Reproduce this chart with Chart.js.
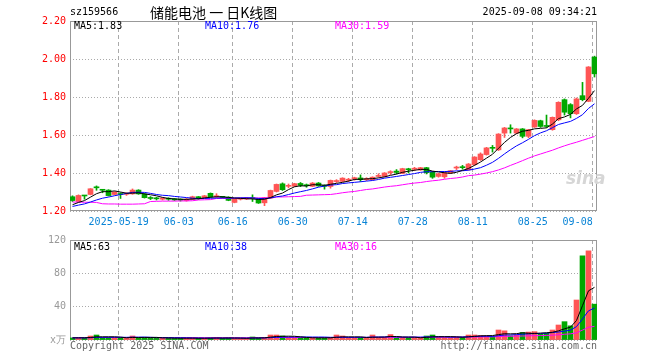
<!DOCTYPE html>
<html>
<head>
<meta charset="utf-8">
<script src="https://cdn.jsdelivr.net/npm/chart.js@4.4.0/dist/chart.umd.min.js"></script>
<style>
  body { margin: 0; background: #fff; }
  #wrap { position: relative; width: 660px; height: 360px; overflow: hidden;
          font-family: "DejaVu Sans Mono", monospace; font-size: 10px; color: #000; }
  canvas { position: absolute; left: 0; }
  .t { position: absolute; line-height: 12px; white-space: pre; }
</style>
</head>
<body>
<div id="wrap">
  <canvas id="kline" width="660" height="231" style="top:0"></canvas>
  <canvas id="vol" width="660" height="130" style="top:230px"></canvas>

  <div class="t" style="left:70px;top:6px">sz159566</div>
  <div class="t" style="left:150px;top:3px;font-family:'Noto Sans CJK SC';font-size:14px;line-height:18px">储能电池 一 日K线图</div>
  <div class="t" style="right:63px;top:6px">2025-09-08 09:34:21</div>

  <div class="t" id="ma5" style="left:74px;top:20px"></div>
  <div class="t" id="ma10" style="left:205px;top:20px;color:#0000ff"></div>
  <div class="t" id="ma30" style="left:335px;top:20px;color:#ff00ff"></div>

  <div class="t" id="vma5" style="left:74px;top:241px"></div>
  <div class="t" id="vma10" style="left:205px;top:241px;color:#0000ff"></div>
  <div class="t" id="vma30" style="left:335px;top:241px;color:#ff00ff"></div>

  <div class="t" style="left:566px;top:168px;font-family:'DejaVu Sans';font-style:italic;font-weight:bold;font-size:17px;line-height:20px;color:#d6d6d6">sina</div>

  <div class="t" style="left:70px;top:340px;color:#666">Copyright 2025 SINA.COM</div>
  <div class="t" style="right:63px;top:340px;color:#666">http://finance.sina.com.cn</div>
</div>

<script>
// trading days shown (2025)
const dates = [
  '05-07','05-08','05-09','05-12','05-13','05-14','05-15','05-16','05-19','05-20',
  '05-21','05-22','05-23','05-26','05-27','05-28','05-29','05-30',
  '06-03','06-04','06-05','06-06','06-09','06-10','06-11','06-12','06-13','06-16',
  '06-17','06-18','06-19','06-20','06-23','06-24','06-25','06-26','06-27','06-30',
  '07-01','07-02','07-03','07-04','07-07','07-08','07-09','07-10','07-11','07-14',
  '07-15','07-16','07-17','07-18','07-21','07-22','07-23','07-24','07-25','07-28',
  '07-29','07-30','07-31',
  '08-01','08-04','08-05','08-06','08-07','08-08','08-11','08-12','08-13','08-14',
  '08-15','08-18','08-19','08-20','08-21','08-22','08-25','08-26','08-27','08-28','08-29',
  '09-01','09-02','09-03','09-04','09-05','09-08'
];
const tickDates = ['05-19','06-03','06-16','06-30','07-14','07-28','08-11','08-25','09-08'];
const tickText = ['2025-05-19','06-03','06-16','06-30','07-14','07-28','08-11','08-25','09-08'];
const priceTicks = [1.20, 1.40, 1.60, 1.80, 2.00, 2.20];
const volTicks = [0, 40, 80, 120];

const open = [
  1.275,1.250,1.281,1.287,1.324,1.311,1.310,1.287,1.289,1.288,
  1.290,1.310,1.290,1.270,1.267,1.262,1.266,1.264,1.260,1.255,
  1.262,1.272,1.270,1.293,1.275,1.275,1.273,1.245,1.262,1.263,
  1.268,1.263,1.243,1.268,1.303,1.343,1.330,1.330,1.345,1.337,
  1.330,1.347,1.335,1.329,1.355,1.356,1.362,1.370,1.374,1.365,
  1.365,1.382,1.382,1.402,1.410,1.398,1.420,1.420,1.416,1.428,
  1.405,1.382,1.380,1.400,1.426,1.432,1.417,1.444,1.470,1.497,
  1.535,1.522,1.610,1.635,1.610,1.632,1.593,1.642,1.675,1.650,
  1.628,1.680,1.786,1.760,1.712,1.807,1.777,2.010
];
const high = [
  1.280,1.285,1.282,1.318,1.332,1.312,1.312,1.302,1.296,1.296,
  1.316,1.312,1.292,1.276,1.272,1.270,1.270,1.266,1.264,1.266,
  1.278,1.276,1.282,1.295,1.291,1.277,1.275,1.265,1.268,1.272,
  1.285,1.265,1.272,1.310,1.342,1.348,1.342,1.346,1.350,1.342,
  1.350,1.350,1.338,1.363,1.365,1.375,1.372,1.378,1.390,1.375,
  1.380,1.396,1.402,1.412,1.418,1.425,1.425,1.430,1.430,1.430,
  1.408,1.398,1.405,1.414,1.436,1.440,1.450,1.486,1.506,1.535,
  1.545,1.607,1.640,1.654,1.634,1.634,1.630,1.680,1.678,1.705,
  1.695,1.775,1.790,1.765,1.795,1.877,1.960,2.015
];
const low = [
  1.250,1.248,1.262,1.285,1.309,1.296,1.279,1.285,1.266,1.282,
  1.288,1.288,1.268,1.260,1.258,1.258,1.256,1.255,1.252,1.252,
  1.260,1.262,1.268,1.272,1.272,1.268,1.254,1.243,1.258,1.260,
  1.250,1.240,1.228,1.266,1.300,1.308,1.322,1.328,1.328,1.325,
  1.328,1.330,1.315,1.320,1.350,1.354,1.355,1.362,1.356,1.360,
  1.363,1.378,1.380,1.392,1.395,1.396,1.400,1.412,1.414,1.395,
  1.372,1.378,1.372,1.398,1.418,1.420,1.415,1.440,1.466,1.494,
  1.510,1.518,1.587,1.610,1.606,1.585,1.586,1.640,1.640,1.640,
  1.625,1.675,1.705,1.690,1.708,1.780,1.775,1.905
];
const close = [
  1.255,1.282,1.279,1.317,1.322,1.309,1.281,1.300,1.287,1.292,
  1.310,1.290,1.270,1.266,1.264,1.268,1.262,1.258,1.257,1.262,
  1.275,1.270,1.280,1.274,1.276,1.272,1.256,1.263,1.265,1.268,
  1.265,1.242,1.270,1.308,1.340,1.312,1.333,1.344,1.335,1.333,
  1.347,1.332,1.330,1.361,1.358,1.373,1.366,1.373,1.365,1.369,
  1.378,1.386,1.400,1.405,1.403,1.423,1.417,1.424,1.428,1.402,
  1.378,1.396,1.402,1.412,1.430,1.428,1.447,1.484,1.500,1.532,
  1.530,1.605,1.637,1.632,1.632,1.593,1.628,1.677,1.645,1.645,
  1.693,1.772,1.720,1.712,1.790,1.786,1.958,1.922
];
// closes of the 9 sessions before the first one shown (for MA5 / MA10)
const prevCloses = [1.212,1.215,1.218,1.214,1.216,1.222,1.230,1.226,1.232];
// MA30
const ma30 = [
  1.247,1.247,1.246,1.246,1.245,
  1.238,1.237,1.237,1.236,1.236,1.236,1.237,1.238,
  1.250,1.251,1.252,1.252,1.252,1.253,1.253,1.254,
  1.258,1.259,1.260,
  1.266,1.266,1.267,1.267,1.268,1.268,1.268,1.269,1.269,1.270,
  1.274,1.274,1.275,1.276,1.277,
  1.283,1.284,1.285,1.286,1.287,
  1.291,1.296,1.300,1.303,1.308,1.313,1.316,1.321,1.326,1.330,1.333,
  1.338,1.343,1.347,1.350,1.355,1.359,1.362,1.367,1.371,1.374,1.379,
  1.386,1.389,1.394,1.400,1.407,1.416,1.427,
  1.440,1.452,1.465,1.478,1.490,1.500,1.510,1.520,1.532,1.543,1.553,1.562,1.572,1.582,1.592
];

// volume, x万
const volume = [
  2.5,3.0,2.5,4.8,6.0,3.0,3.0,2.5,2.8,2.0,
  4.8,3.0,3.0,2.5,2.5,2.0,2.5,2.0,2.0,2.2,
  2.5,2.0,2.0,2.5,3.0,2.0,2.5,2.0,2.0,2.0,
  3.6,2.5,3.0,6.0,6.0,4.8,3.0,2.5,2.8,2.5,
  2.5,2.5,2.5,3.0,6.0,4.8,2.5,2.5,3.0,2.5,
  6.0,3.0,3.0,6.5,2.5,3.0,2.5,3.0,2.5,4.8,
  6.0,3.5,3.0,3.0,3.5,3.5,6.0,6.0,5.5,5.0,
  4.0,12,11,5.0,6.0,9.0,9.5,10,7,8,
  12,18,22,17,48,101,107,43
];
const prevVolumes = [2.6,2.4,2.8,2.5,2.3,2.7,2.5,2.4,2.6];
const volMa30 = [
  2.8,2.8,2.8,2.9,3.0,3.0,3.0,3.0,3.0,2.9,3.0,3.0,3.0,2.9,2.9,2.9,2.8,2.8,2.8,2.8,2.8,
  2.8,2.8,2.8,2.8,2.8,2.8,2.8,2.7,2.7,2.8,2.8,2.8,2.9,3.0,3.0,3.0,3.0,3.0,3.0,3.0,3.0,3.0,3.0,3.1,3.1,
  3.1,3.1,3.1,3.1,3.2,3.2,3.2,3.3,3.2,3.2,3.2,3.2,3.2,3.3,3.4,3.4,3.4,3.4,3.4,3.4,
  3.5,3.6,3.7,3.8,3.8,4.1,4.4,4.5,4.6,4.8,
  5.0,5.2,5.3,5.5,5.8,6.3,6.9,7.4,
  8.6,11.9,15.3,16.4
];

const RED = '#ff5555';
const GREEN = '#00a800';
const FONT = { family: 'DejaVu Sans Mono', size: 10 };
const N = dates.length;

function movingAvg(prev, src, n) {
  const all = prev.concat(src);
  return src.map((_, i) => {
    const end = i + prev.length + 1;
    let s = 0;
    for (let k = end - n; k < end; k++) s += all[k];
    return s / n;
  });
}

const ma5 = movingAvg(prevCloses, close, 5);
const ma10 = movingAvg(prevCloses, close, 10);
const vma5 = movingAvg(prevVolumes, volume, 5);
const vma10 = movingAvg(prevVolumes, volume, 10);

const colors = close.map((c, i) => (c >= open[i] ? RED : GREEN));
const tickIdx = tickDates.map(d => dates.indexOf(d));
const pts = arr => arr.map((v, i) => ({ x: i, y: v }));

document.getElementById('ma5').textContent = 'MA5:' + ma5[N - 1].toFixed(2);
document.getElementById('ma10').textContent = 'MA10:' + ma10[N - 1].toFixed(2);
document.getElementById('ma30').textContent = 'MA30:' + ma30[N - 1].toFixed(2);
document.getElementById('vma5').textContent = 'MA5:' + Math.round(vma5[N - 1]);
document.getElementById('vma10').textContent = 'MA10:' + Math.round(vma10[N - 1]);
document.getElementById('vma30').textContent = 'MA30:' + Math.round(volMa30[N - 1]);

// plot frame
const frame = {
  id: 'frame',
  beforeDatasetsDraw(chart) {
    const a = chart.chartArea, ctx = chart.ctx;
    ctx.save();
    ctx.strokeStyle = '#999';
    ctx.lineWidth = 1;
    ctx.strokeRect(Math.round(a.left) + 0.5, Math.round(a.top) + 0.5,
      Math.round(a.right - a.left) - 1, Math.round(a.bottom - a.top) - 1);
    ctx.restore();
  }
};

function xAxis(showLabels) {
  return {
    type: 'linear',
    offset: false,
    min: -0.4167,
    max: N - 0.5833,
    afterBuildTicks: s => { s.ticks = tickIdx.map(i => ({ value: i - 0.3 })); },
    afterFit: s => { s.height = showLabels ? 20 : 0; },
    grid: { color: '#aaa', drawTicks: false, offset: false },
    border: { display: false, dash: [4, 3] },
    ticks: {
      display: showLabels, autoSkip: false, maxRotation: 0, padding: 5,
      color: '#0a84d6', font: FONT,
      callback: (v, k) => (k === tickText.length - 1 ? tickText[k] + '     ' : tickText[k])
    }
  };
}

function line(data, color) {
  return { type: 'line', data: pts(data), borderColor: color, borderWidth: 1,
           pointRadius: 0, tension: 0, order: 0 };
}

const common = {
  responsive: false,
  animation: false,
  devicePixelRatio: 1,
  events: [],
  plugins: { legend: { display: false }, tooltip: { enabled: false } }
};

new Chart(document.getElementById('kline'), {
  type: 'bar',
  data: {
    datasets: [
      line(ma5, '#000000'),
      line(ma10, '#0000ff'),
      line(ma30, '#ff00ff'),
      { data: dates.map((d, i) => ({ x: i, y: [open[i], close[i]] })),
        backgroundColor: colors, barThickness: 5, grouped: false, minBarLength: 1, order: 2 },
      { data: dates.map((d, i) => ({ x: i, y: [low[i], high[i]] })),
        backgroundColor: colors, barThickness: 1, grouped: false, order: 3 }
    ]
  },
  options: {
    ...common,
    layout: { padding: { top: 21, right: 63, left: 0, bottom: 0 } },
    scales: {
      x: xAxis(true),
      y: {
        min: priceTicks[0], max: priceTicks[priceTicks.length - 1],
        afterBuildTicks: s => { s.ticks = priceTicks.map(v => ({ value: v })); },
        afterFit: s => { s.width = 70; },
        grid: { color: '#aaa', drawTicks: false },
        border: { display: false, dash: [1, 2] },
        ticks: { color: '#ff0000', font: FONT, padding: 4, callback: v => v.toFixed(2) }
      }
    }
  },
  plugins: [frame]
});

new Chart(document.getElementById('vol'), {
  type: 'bar',
  data: {
    datasets: [
      line(vma5, '#000000'),
      line(vma10, '#0000ff'),
      line(volMa30, '#ff00ff'),
      { data: pts(volume), backgroundColor: colors, barThickness: 5, grouped: false, order: 2 }
    ]
  },
  options: {
    ...common,
    layout: { padding: { top: 10, right: 63, left: 0, bottom: 20 } },
    scales: {
      x: xAxis(false),
      y: {
        min: volTicks[0], max: volTicks[volTicks.length - 1],
        afterBuildTicks: s => { s.ticks = volTicks.map(v => ({ value: v })); },
        afterFit: s => { s.width = 70; },
        grid: { color: '#aaa', drawTicks: false },
        border: { display: false, dash: [1, 2] },
        ticks: { color: '#999', font: FONT, padding: 4, callback: v => (v === 0 ? 'x万' : v) }
      }
    }
  },
  plugins: [frame]
});
</script>
</body>
</html>
